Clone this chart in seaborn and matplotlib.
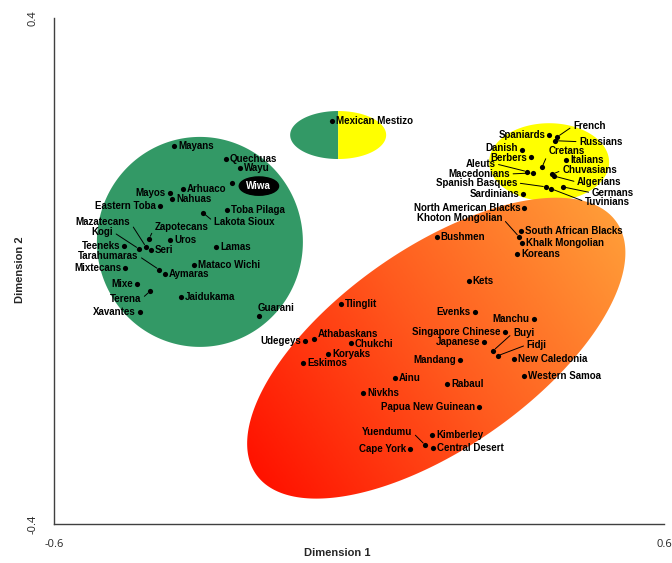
import numpy as np
import matplotlib
matplotlib.use("Agg")
import matplotlib.pyplot as plt
from matplotlib.patches import Polygon
from matplotlib.colors import LinearSegmentedColormap
import seaborn as sns

# populations and their MDS coordinates
names = [
    "Mayans", "Quechuas", "Wayu", "Wiwa", "Arhuaco", "Mayos", "Nahuas", "Eastern Toba",
    "Toba Pilaga", "Lakota Sioux", "Zapotecans", "Uros", "Mazatecans", "Kogi", "Seri",
    "Teeneks", "Lamas", "Tarahumaras", "Mixtecans", "Mataco Wichi", "Aymaras", "Mixe",
    "Terena", "Jaidukama", "Xavantes", "Guarani", "Mexican Mestizo",
    "Spaniards", "French", "Russians", "Danish", "Berbers", "Cretans", "Italians",
    "Chuvasians", "Algerians", "Aleuts", "Macedonians", "Spanish Basques", "Tuvinians",
    "Germans", "Sardinians",
    "North American Blacks", "Khoton Mongolian", "South African Blacks", "Bushmen",
    "Khalk Mongolian", "Koreans", "Kets", "Tlinglit", "Udegeys", "Athabaskans", "Chukchi",
    "Koryaks", "Eskimos", "Ainu", "Nivkhs", "Evenks", "Manchu", "Singapore Chinese", "Buyi",
    "Japanese", "Fidji", "Mandang", "New Caledonia", "Western Samoa", "Rabaul",
    "Papua New Guinean", "Kimberley", "Central Desert", "Yuendumu", "Cape York",
]
dim1 = [
    -0.364, -0.262, -0.234, -0.250, -0.346, -0.372, -0.368, -0.391,
    -0.260, -0.307, -0.413, -0.372, -0.419, -0.433, -0.409,
    -0.462, -0.281, -0.393, -0.460, -0.325, -0.382, -0.437,
    -0.411, -0.350, -0.431, -0.197, -0.053,
    0.374, 0.390, 0.386, 0.321, 0.338, 0.360, 0.407,
    0.380, 0.384, 0.331, 0.342, 0.368, 0.378,
    0.401, 0.323,
    0.325, 0.315, 0.319, 0.153,
    0.321, 0.311, 0.216, -0.035, -0.106, -0.089, -0.016,
    -0.061, -0.110, 0.071, 0.008, 0.228, 0.344, 0.287, 0.264,
    0.246, 0.273, 0.199, 0.305, 0.325, 0.173,
    0.236, 0.144, 0.146, 0.130, 0.100,
]
dim2 = [
    0.198, 0.177, 0.163, 0.139, 0.130, 0.123, 0.114, 0.103,
    0.096, 0.092, 0.051, 0.049, 0.038, 0.035, 0.033,
    0.040, 0.038, 0.002, 0.005, 0.009, -0.005, -0.021,
    -0.032, -0.041, -0.065, -0.071, 0.237,
    0.215, 0.212, 0.206, 0.191, 0.180, 0.164, 0.175,
    0.153, 0.150, 0.157, 0.155, 0.133, 0.130,
    0.133, 0.122,
    0.100, 0.054, 0.063, 0.054,
    0.044, 0.027, -0.016, -0.052, -0.111, -0.108, -0.114,
    -0.131, -0.145, -0.169, -0.193, -0.065, -0.076, -0.096, -0.126,
    -0.112, -0.134, -0.141, -0.139, -0.166, -0.179,
    -0.215, -0.259, -0.280, -0.275, -0.281,
]

# label placement in pixels: (dx, dy, ha, leader line)
left_labels = ["Mayos", "Eastern Toba", "Teeneks", "Mixtecans", "Mixe", "Xavantes",
               "Spaniards", "Sardinians", "North American Blacks",
               "Udegeys", "Evenks", "Manchu", "Singapore Chinese", "Japanese", "Mandang",
               "Papua New Guinean", "Cape York"]
label_pos = {n: (-4, 0, "right", False) for n in left_labels}
label_pos.update({
    "Danish": (-4, 2, "right", False),
    "Berbers": (-4, -1, "right", False),
    "Lakota Sioux": (11, -9, "left", True),
    "Zapotecans": (6, 12, "left", True),
    "Mazatecans": (-16, 25, "right", True),
    "Kogi": (-26, 17, "right", True),
    "Tarahumaras": (-21, 14, "right", True),
    "Terena": (-9, -8, "right", True),
    "Guarani": (-1, 8, "left", False),
    "French": (16, 11, "left", True),
    "Russians": (24, -1, "left", True),
    "Cretans": (7, 16, "left", True),
    "Chuvasians": (10, 4, "left", True),
    "Algerians": (23, -6, "left", True),
    "Aleuts": (-32, 8, "right", True),
    "Macedonians": (-23, -1, "right", True),
    "Spanish Basques": (-29, 4, "right", True),
    "Tuvinians": (34, -13, "left", True),
    "Germans": (29, -6, "left", True),
    "Khoton Mongolian": (-17, 19, "right", True),
    "Buyi": (20, 18, "left", True),
    "Fidji": (29, 11, "left", True),
    "Yuendumu": (-13, 13, "right", True),
    "Athabaskans": (4, 5, "left", False),
    "Chukchi": (4, -1, "left", False),
})

GREEN = "#339966"
YELLOW = "#FFFF00"

sns.set_style("white")
plt.rcParams["font.family"] = ["Liberation Sans", "DejaVu Sans"]

fig = plt.figure(figsize=(6.72, 5.63), dpi=100)
ax = fig.add_axes([54 / 672, 39 / 563, 610 / 672, 506 / 563])
ax.set_xlim(-0.6, 0.6)
ax.set_ylim(-0.4, 0.4)

# pixels per data unit, used to draw the cluster ellipses
o = ax.transData.transform((0, 0))
sx, sy = ax.transData.transform((1, 1)) - o


def ellipse_xy(cx, cy, a, b, ang=0, t0=0, t1=2 * np.pi):
    t = np.linspace(t0, t1, 300)
    u, v = a * np.cos(t), b * np.sin(t)
    r = np.deg2rad(ang)
    return np.column_stack([cx + (u * np.cos(r) - v * np.sin(r)) / sx,
                            cy + (u * np.sin(r) + v * np.cos(r)) / sy])


# green cluster
ax.add_patch(Polygon(ellipse_xy(-0.313, 0.046, 103, 105), fc=GREEN, ec="none", zorder=1))
# yellow cluster
ax.add_patch(Polygon(ellipse_xy(0.374, 0.172, 60, 39), fc=YELLOW, ec="none", zorder=1))
# mexican mestizo: half green, half yellow
ax.add_patch(Polygon(ellipse_xy(-0.041, 0.215, 48, 24, 0, np.pi / 2, 3 * np.pi / 2),
                     fc=GREEN, ec="none", zorder=1))
ax.add_patch(Polygon(ellipse_xy(-0.041, 0.215, 48, 24, 0, -np.pi / 2, np.pi / 2),
                     fc=YELLOW, ec="none", zorder=1))

# orange cluster with red->orange gradient
ocx, ocy, oa, ob, oang = 0.152, -0.122, 220, 100, 35
opoly = Polygon(ellipse_xy(ocx, ocy, oa, ob, oang), fc="none", ec="none")
ax.add_patch(opoly)
gx = np.linspace(-0.6, 0.6, 400)
gy = np.linspace(-0.4, 0.4, 300)
GX, GY = np.meshgrid(gx, gy)
rr = np.deg2rad(oang)
proj = ((GX - ocx) * sx * np.cos(rr) + (GY - ocy) * sy * np.sin(rr)) / oa
proj = np.clip((proj + 1) / 2, 0, 1)
cmap = LinearSegmentedColormap.from_list("ro", ["#FF1200", "#FF5A1E", "#FF9C38"])
img = ax.imshow(proj, cmap=cmap, extent=(-0.6, 0.6, -0.4, 0.4), origin="lower",
                aspect="auto", zorder=1, vmin=0, vmax=1)
img.set_clip_path(opoly)

sns.scatterplot(x=dim1, y=dim2, color="black", s=14, linewidth=0, ax=ax, zorder=5)

for n, x, y in zip(names, dim1, dim2):
    if n == "Wiwa":
        ax.annotate(n, (x, y), xytext=(27, -3), textcoords="offset pixels",
                    ha="center", va="center", fontsize=7, fontweight="bold", color="white",
                    bbox=dict(boxstyle="ellipse,pad=0.15", fc="black", ec="black"), zorder=6)
        continue
    dx, dy, ha, leader = label_pos.get(n, (4, 0, "left", False))
    kw = {}
    if leader:
        kw["arrowprops"] = dict(arrowstyle="-", lw=0.7, color="black", shrinkA=0, shrinkB=2,
                                relpos=(1, 0.5) if ha == "right" else (0, 0.5))
    ax.annotate(n, (x, y), xytext=(dx, dy), textcoords="offset pixels",
                ha=ha, va="center", fontsize=7, fontweight="bold", color="black",
                zorder=6, **kw)

ax.set_xticks([-0.6, 0.6])
ax.set_yticks([-0.4, 0.4])
ax.set_xticklabels(["-0.6", "0.6"], family="Open Sans", fontsize=8)
ax.set_yticklabels(["-0.4", "0.4"], family="Open Sans", fontsize=8, rotation=90, va="center")
ax.tick_params(length=0, pad=11)
ax.set_xlim(-0.6, 0.6)
ax.set_ylim(-0.4, 0.4)
sns.despine(ax=ax)
for s in ["left", "bottom"]:
    ax.spines[s].set_color("#404040")
    ax.spines[s].set_linewidth(1)

fig.text(337 / 672, 1 - 553 / 563, "Dimension 1", ha="center", va="center",
         fontsize=8, fontweight="bold")
fig.text(20 / 672, 1 - 270 / 563, "Dimension 2", ha="center", va="center",
         rotation=90, fontsize=8, fontweight="bold")

fig.savefig("out.png", dpi=100)
